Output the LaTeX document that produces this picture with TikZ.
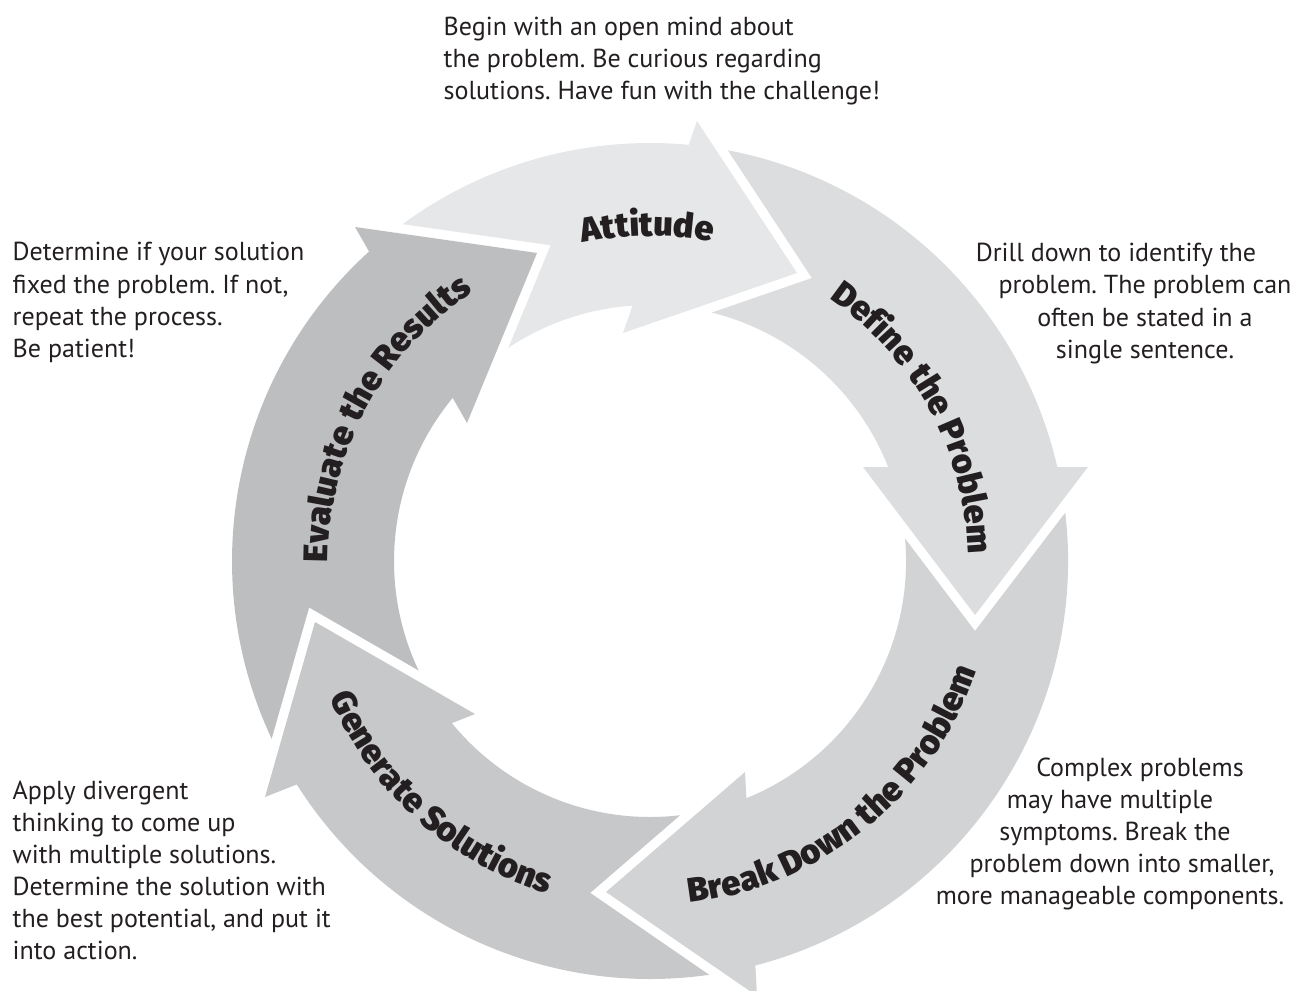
\documentclass[tikz,border=0pt]{standalone}
\usepackage{fontspec}
\setmainfont{PT Sans}
\newfontfamily\lblfont{Fira Sans}[UprightFont={* Black}]
\usetikzlibrary{decorations.text,calc}
\definecolor{cA}{HTML}{E6E7E8}
\definecolor{cB}{HTML}{DCDDDE}
\definecolor{cC}{HTML}{D1D3D4}
\definecolor{cD}{HTML}{C7C8CA}
\definecolor{cE}{HTML}{BCBEC0}
\definecolor{ink}{HTML}{231F20}
\newcommand\ringseg[3]{\fill[#3] ($(C)+(#1:418)$) arc[start angle=#1,end angle=#2,radius=418] -- ($(C)+(#2:256)$) arc[start angle=#2,end angle=#1,radius=256] -- cycle;}
\newcommand\headtri[4]{\draw[gapline] #1 -- #2 -- #3; \fill[#4] #1 -- #2 -- #3 -- cycle;}
\newcommand\arclabel[4]{\path[decorate,decoration={text along path,text align=center,text color=ink,text={|\lblfont\fontsize{9.7pt}{10pt}\selectfont|#1}}] ($(C)+(#2:#4)$) arc[start angle=#2,end angle=#3,radius=#4];}
\frenchspacing
\begin{document}
\begin{tikzpicture}[x=0.01cm,y=0.01cm,
  gapline/.style={white,line width=5.4pt,line join=miter},
  txt/.style={font=\fontsize{7.4pt}{9.1pt}\selectfont,text=ink,inner sep=0pt}]
\useasboundingbox (0,0) rectangle (1306,-991);
\coordinate (C) at (650,-561);
% ring bodies
\ringseg{132.24}{84.69}{cA}
\ringseg{84.69}{13.0}{cB}
\ringseg{13.0}{-75.37}{cC}
\ringseg{-75.37}{-147.68}{cD}
\ringseg{212.32}{132.24}{cE}
% arrow heads
\headtri{(697,-121)}{(797,-273)}{(623,-333)}{cA}
\headtri{(1088,-467)}{(975,-615)}{(863,-467)}{cB}
\headtri{(757,-996)}{(606,-892)}{(745,-772)}{cC}
\headtri{(265,-797)}{(315,-622)}{(475,-714)}{cD}
\headtri{(355,-227)}{(537,-253)}{(467,-423)}{cE}
% labels along the arrows
\arclabel{Attitude}{135.5}{45.5}{325}
\arclabel{Define the Problem}{78.5}{-21.5}{318}
\arclabel{Break Down the Problem}{-96}{-6}{344}
\arclabel{Generate Solutions}{183}{273}{348}
\arclabel{Evaluate the Results}{196.8}{106.8}{322}
% annotations (anchor = baseline of the last line)
\node[txt,align=left,anchor=base west] (tTop) at (443,-100) {Begin with an open mind about\\the problem. Be curious regarding\\solutions. Have fun with the challenge!};
\node[txt,align=left,anchor=base west] (tEval) at (12,-357) {Determine if your solution\\fixed the problem. If not,\\repeat the process.\\Be patient!};
\node[txt,align=center,anchor=base] (tDef) at (1145,-358) {Drill down to identify the\hspace*{0.58cm}\\problem. The problem can\\often be stated in a\\single sentence.};
\node[txt,align=left,anchor=base west] (tGen) at (12,-959) {Apply divergent\\thinking to come up\\with multiple solutions.\\Determine the solution with\\the best potential, and put it\\into action.};
\node[txt,align=center,anchor=base] (tBrk) at (1110,-904) {\hspace*{0.6cm}Complex problems\\may have multiple\hspace*{0.2cm}\\\hspace*{0.1cm}symptoms. Break the\\\hspace*{0.24cm}problem down into smaller,\\more manageable components.};
\end{tikzpicture}
\end{document}
